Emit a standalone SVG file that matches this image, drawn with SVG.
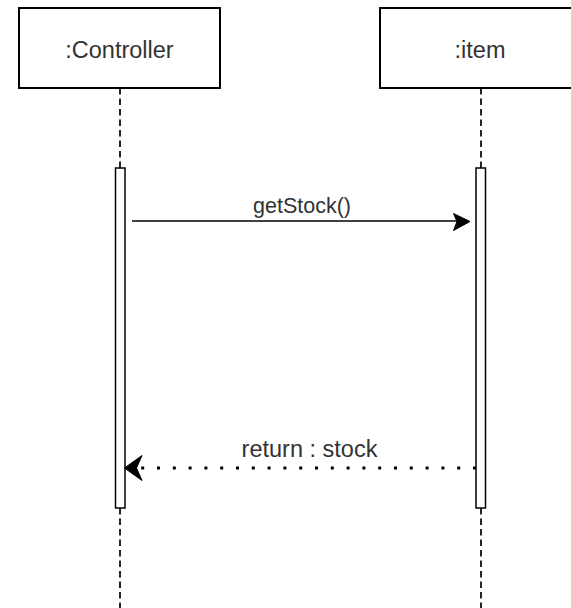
<svg xmlns="http://www.w3.org/2000/svg" width="571" height="608" viewBox="0 0 571 608">
<style>
.box{fill:#fff;stroke:#000;stroke-width:2}
.life{stroke:#000;stroke-width:1.7;stroke-dasharray:6.5 4;fill:none}
.act{fill:#fff;stroke:#000;stroke-width:1.5}
.lbl{font-family:"Liberation Sans",Arial,sans-serif;fill:#333;text-anchor:middle}
.msg{stroke:#000;stroke-width:1.5;fill:none}
.ret{stroke:#000;stroke-width:3;fill:none}
.head{fill:#000;stroke:#000;stroke-width:1}
</style>
<rect width="571" height="608" fill="#fff"/>
<g id="controller">
<line class="life" x1="120" y1="88" x2="120" y2="608"/>
<rect class="box" x="19" y="8" width="201" height="80"/>
<text class="lbl" x="119.5" y="58" font-size="23.5">:Controller</text>
<rect class="act" x="115.5" y="168" width="9.5" height="340"/>
</g>
<g id="item">
<line class="life" x1="481" y1="88" x2="481" y2="608"/>
<rect class="box" x="380" y="8" width="201" height="80"/>
<text class="lbl" x="480" y="57.5" font-size="23.5">:item</text>
<rect class="act" x="476" y="168" width="9.5" height="340"/>
</g>
<g id="connectors">
<g id="getStock">
<line class="msg" x1="132" y1="221" x2="458" y2="221"/>
<path class="head" d="M470,221.5 L453.5,213.5 L457,221.5 L453.5,230.5 Z"/>
<text class="lbl" x="302" y="213" font-size="21.5">getStock()</text>
</g>
<g id="return">
<line class="ret" x1="476" y1="468" x2="138" y2="468" stroke-dasharray="3 12.8"/>
<path class="head" d="M124.5,468 L142,455.5 L136.5,468 L142,480.5 Z"/>
<text class="lbl" x="309.5" y="457" font-size="23.5">return : stock</text>
</g>
</g>
</svg>
